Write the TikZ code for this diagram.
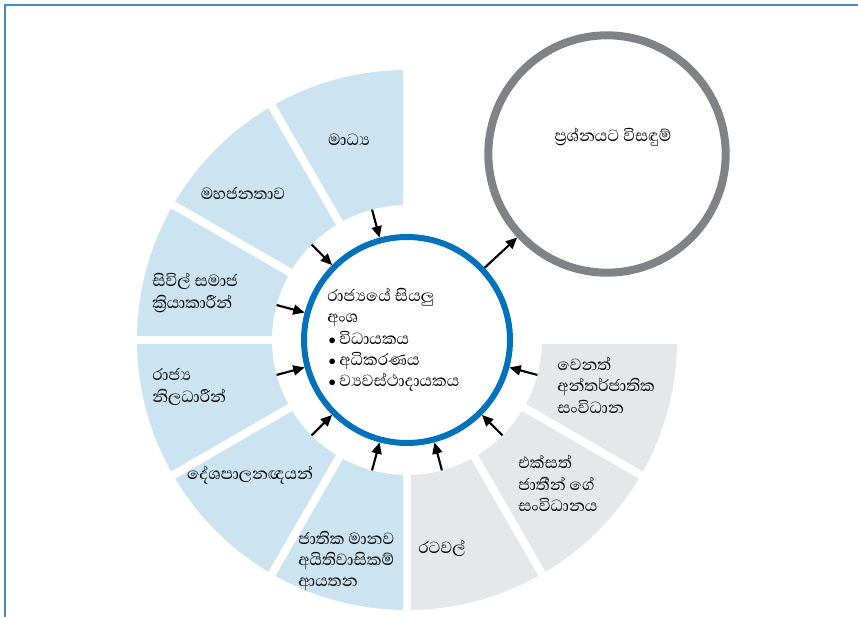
\documentclass[tikz,border=0pt]{standalone}
\usepackage{fontspec}
\newfontfamily\sinhala[Script=Sinhala]{Abhaya Libre}
\usetikzlibrary{arrows.meta}
\definecolor{segblue}{HTML}{CCE3F1}
\definecolor{seggrey}{HTML}{E6E7E8}
\definecolor{ringblue}{HTML}{0072BC}
\definecolor{ringgrey}{HTML}{808285}
\definecolor{framecol}{HTML}{428ECC}
\newcommand\blt{\makebox[9pt][l]{\hspace{1pt}$\scriptstyle\bullet$}}
\begin{document}
\begin{tikzpicture}[x=0.75pt,y=0.75pt,
  lbl/.style={font=\sinhala\fontsize{15.5}{16}\selectfont, align=left, inner sep=0pt},
  arr/.style={-{Triangle[length=8.5pt,width=7.5pt]}, line width=1.6pt},
  gapline/.style={white, line width=6pt},
]
\useasboundingbox (0,0) rectangle (858,617);
\draw[framecol, line width=1.5pt] (5,0) -- (5,611.5) -- (858,611.5);
\coordinate (C) at (407,277);
% ring segments
\fill[segblue] (C) ++(90:270) arc[start angle=90,end angle=270,radius=270] -- ++(90:135) arc[start angle=270,end angle=90,radius=135] -- cycle;
\fill[seggrey] (C) ++(270:270) arc[start angle=270,end angle=360,radius=270] -- ++(180:135) arc[start angle=360,end angle=270,radius=135] -- cycle;
\foreach \a in {90,120,...,360} \draw[gapline] (C) ++(\a:128) -- ++(\a:150);
% circles
\node[circle, draw=ringblue, line width=4.5pt, minimum size=154.5pt, inner sep=0pt] (state) at (C) {};
\node[circle, draw=ringgrey, line width=6pt, minimum size=178pt, inner sep=0pt] (sol) at (607,463) {};
% labels
\node[lbl] (l1) at (349,477) {මාධ්^^^^200dය};
\node[lbl] (l2) at (243,424) {මහජනතාව};
\node[lbl, anchor=west] (l3) at (152,324) {සිවිල් සමාජ\\ක්^^^^200dරියාකාරීන්};
\node[lbl, anchor=west] (l4) at (152,230) {රාජ්^^^^200dය\\නිලධාරීන්};
\node[lbl] (l5) at (250,142) {දේශපාලනඥයන්};
\node[lbl, anchor=west] (l6) at (298,56) {ජාතික මානව\\අයිතිවාසිකම්\\ආයතන};
\node[lbl, anchor=west] (l7) at (418,69) {රටවල්};
\node[lbl, anchor=west] (l8) at (518,133.5) {එක්සත්\\ජාතීන් ගේ\\සංවිධානය};
\node[lbl, anchor=west] (l9) at (557,232) {වෙනත්\\අන්තර්ජාතික\\සංවිධාන};
\node[lbl, anchor=west] (ctext) at (327,277) {රාජ්^^^^200dයයේ සියලු\\අංශ\\\blt විධායකය\\\blt අධිකරණය\\\blt ව්^^^^200dයවස්ථාදායකය};
\node[lbl] (stext) at (613,480) {ප්^^^^200dරශ්නයට විසඳුම්};
% arrows
\foreach \a/\n in {105/1,135/2,165/3,195/4,225/5,255/6,285/7,315/8,345/9}{
  \path (C) ++(\a:135) coordinate (p\n);
  \draw[arr] (p\n) -- (state);
}
\draw[arr] (state) -- (sol);
\end{tikzpicture}
\end{document}
